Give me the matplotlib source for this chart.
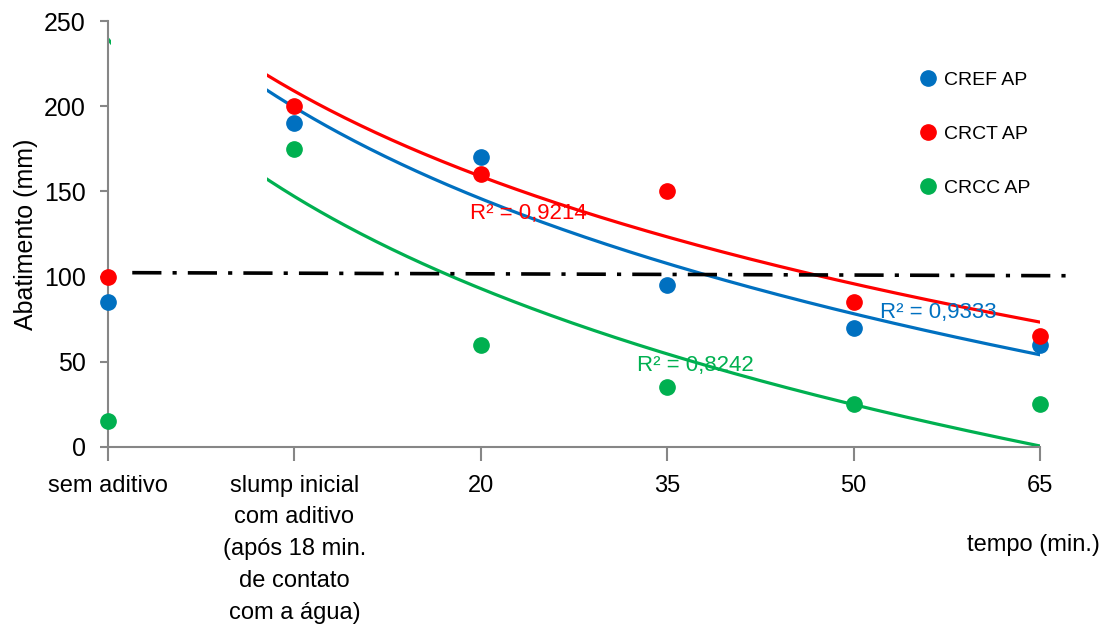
import numpy as np
import matplotlib.pyplot as plt

plt.rcParams['font.family'] = ['Liberation Sans', 'DejaVu Sans']
plt.rcParams['lines.scale_dashes'] = False

# categorias do eixo x
categorias = ["sem aditivo",
              "slump inicial\ncom aditivo\n(após 18 min.\nde contato\ncom a água)",
              "20", "35", "50", "65"]
posicoes = np.arange(1, 7)

# abatimento (mm)
cref = [85, 190, 170, 95, 70, 60]
crct = [100, 200, 160, 150, 85, 65]
crcc = [15, 175, 60, 35, 25, 25]

series = ["CREF AP", "CRCT AP", "CRCC AP"]
cores = ["#0070C0", "#FF0000", "#00B050"]
r2 = ["0,9333", "0,9214", "0,8242"]
pos_r2 = [(5.14, 79), (2.94, 137), (3.84, 48)]

# linha de referência (traço-ponto)
ref_x = [1.13, 6.15]
ref_y = [102.3, 100.5]

fig = plt.figure(figsize=(11.08, 6.27), dpi=100)
ax = fig.add_axes([0.0975, 0.2871, 0.8412, 0.6794])

xx = np.linspace(1, 6, 300)
for dados, nome, cor, txt, (tx, ty) in zip([cref, crct, crcc], series, cores, r2, pos_r2):
    # linha de tendência logarítmica a partir do slump inicial
    a, b = np.polyfit(np.log(posicoes[1:]), dados[1:], 1)
    ax.plot(xx, a * np.log(xx) + b, color=cor, lw=2.3, zorder=2)
    ax.plot(posicoes, dados, 'o', color=cor, ms=11, label=nome,
            clip_on=False, zorder=5)
    ax.text(tx, ty, "R² = " + txt, color=cor, fontsize=16, ha='left', va='center',
            zorder=6)

# área sem linhas de tendência
ax.axvspan(1.015, 1.853, color='white', lw=0, zorder=2.5)

ax.plot(ref_x, ref_y, color='black', lw=2.6, dashes=(21, 8, 3, 8),
        clip_on=False, zorder=4)

ax.set_xlim(1, 6)
ax.set_ylim(0, 250)
ax.set_yticks(np.arange(0, 251, 50))
ax.set_xticks(posicoes)
ax.set_xticklabels(categorias, fontsize=17, linespacing=1.57, va='top')
ax.tick_params(axis='y', labelsize=18, length=6, width=1.5, color='#868686', pad=10)
ax.tick_params(axis='x', length=10, width=1.5, color='#868686', pad=10)
for s in ['top', 'right']:
    ax.spines[s].set_visible(False)
for s in ['left', 'bottom']:
    ax.spines[s].set_color('#868686')
    ax.spines[s].set_linewidth(1.5)

ax.set_ylabel("Abatimento (mm)", fontsize=18, labelpad=4)
fig.text(0.993, 0.131, "tempo (min.)", fontsize=17, ha='right', va='center')

ax.legend(loc='upper left', bbox_to_anchor=(0.855, 0.923), frameon=False,
          fontsize=14, labelspacing=1.88, handlelength=0.6, handletextpad=0.5,
          markerscale=1.0)

fig.savefig("out.png", dpi=100)
